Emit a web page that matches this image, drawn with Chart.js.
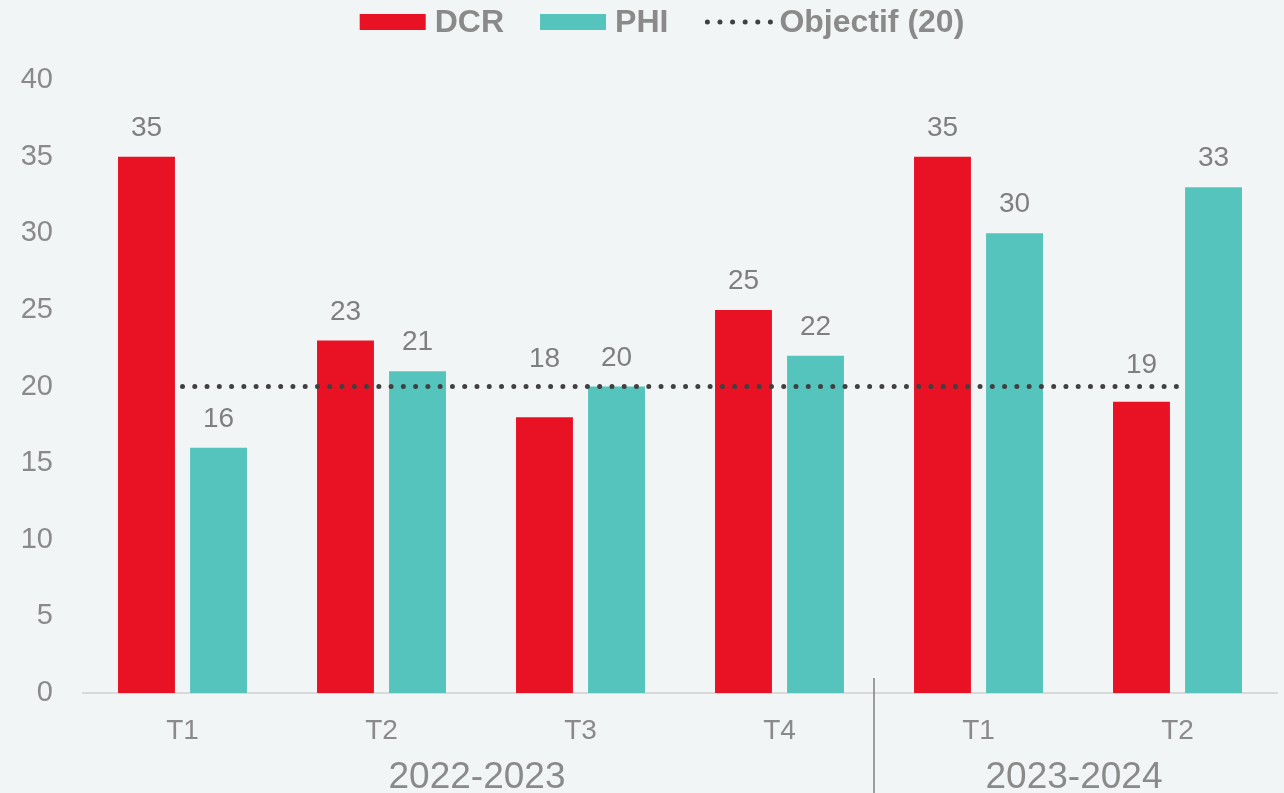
<!DOCTYPE html>
<html lang="fr">
<head>
<meta charset="UTF-8">
<title>DCR / PHI</title>
<script src="https://cdn.jsdelivr.net/npm/chart.js"></script>
<style>
  html, body { margin: 0; padding: 0; background: #f2f5f6; }
  .wrap { width: 1284px; height: 793px; }
</style>
</head>
<body>
<div class="wrap"><canvas id="chart" width="1284" height="793"></canvas></div>
<script>
// Data
const categories = ['T1', 'T2', 'T3', 'T4', 'T1', 'T2'];
const groupLabels = ['2022-2023', '2023-2024'];
const groupSizes = [4, 2];
const dcrValues = [35, 23, 18, 25, 35, 19];
const phiValues = [16, 21, 20, 22, 30, 33];
const objectifValue = 20;
const objectifValues = categories.map(() => objectifValue);
const seriesNames = ['DCR', 'PHI', 'Objectif (20)'];

const RED = '#e81224';
const TEAL = '#55c4bc';
const DOTS = '#404040';
const GREY = '#8a8a8a';
const FONT = '"Liberation Sans", Arial, sans-serif';

// some labels were moved up off the dotted line in the original
const labelLift = { 1: [0, 0, 29, 0, 0, 8], 2: [0, 0, 0, 0, 0, 0] };

// background
const bgPlugin = {
  id: 'bg',
  beforeDraw(chart) {
    const ctx = chart.ctx;
    ctx.save();
    ctx.fillStyle = '#f2f5f6';
    ctx.fillRect(0, 0, chart.width, chart.height);
    ctx.restore();
  }
};

// value labels above the bars
const valueLabels = {
  id: 'valueLabels',
  afterDatasetsDraw(chart) {
    const ctx = chart.ctx;
    ctx.save();
    ctx.font = '28px ' + FONT;
    ctx.fillStyle = '#7f7f7f';
    ctx.textAlign = 'center';
    ctx.textBaseline = 'middle';
    chart.data.datasets.forEach((ds, i) => {
      if (ds.type === 'line') return;
      chart.getDatasetMeta(i).data.forEach((bar, j) => {
        const lift = (labelLift[i] || [])[j] || 0;
        ctx.fillText(ds.data[j], bar.x, bar.y - 28.5 - lift);
      });
    });
    ctx.restore();
  }
};

// group labels under the quarters + separator
const groupAxis = {
  id: 'groupAxis',
  afterDraw(chart) {
    const ctx = chart.ctx;
    const x = chart.scales.x;
    const bottom = chart.chartArea.bottom;
    ctx.save();
    ctx.font = '37px ' + FONT;
    ctx.fillStyle = GREY;
    ctx.textAlign = 'center';
    ctx.textBaseline = 'middle';
    let start = 0;
    groupSizes.forEach((n, g) => {
      const end = start + n - 1;
      const cx = (x.getPixelForValue(start) + x.getPixelForValue(end)) / 2;
      ctx.fillText(groupLabels[g], cx - 4, bottom + 85);
      if (g < groupSizes.length - 1) {
        const sx = (x.getPixelForValue(end) + x.getPixelForValue(end + 1)) / 2 - 5;
        ctx.strokeStyle = '#7f7f7f';
        ctx.lineWidth = 1.5;
        ctx.beginPath();
        ctx.moveTo(sx, bottom - 15);
        ctx.lineTo(sx, chart.height);
        ctx.stroke();
      }
      start += n;
    });
    ctx.restore();
  }
};

// legend on top
const topLegend = {
  id: 'topLegend',
  afterDraw(chart) {
    const ctx = chart.ctx;
    ctx.save();
    ctx.font = 'bold 32px ' + FONT;
    ctx.textBaseline = 'middle';
    const boxW = 66, gap = 9, itemGap = 36, cy = 22;
    const widths = seriesNames.map(n => boxW + gap + ctx.measureText(n).width);
    const total = widths.reduce((a, b) => a + b, 0) + itemGap * (widths.length - 1);
    let x = (chart.width - total) / 2 + 20;
    const colors = [RED, TEAL, DOTS];
    seriesNames.forEach((name, i) => {
      if (i < 2) {
        ctx.fillStyle = colors[i];
        ctx.fillRect(x, cy - 8, boxW, 16);
      } else {
        ctx.strokeStyle = DOTS;
        ctx.lineWidth = 5;
        ctx.lineCap = 'round';
        ctx.setLineDash([0, 12.6]);
        ctx.beginPath();
        ctx.moveTo(x + 3, cy);
        ctx.lineTo(x + boxW + 3, cy);
        ctx.stroke();
        ctx.setLineDash([]);
      }
      ctx.fillStyle = GREY;
      ctx.fillText(name, x + boxW + gap, cy + 1);
      x += widths[i] + itemGap;
    });
    ctx.restore();
  }
};

new Chart(document.getElementById('chart'), {
  data: {
    labels: categories,
    datasets: [
      {
        type: 'line',
        label: seriesNames[2],
        data: objectifValues,
        borderColor: DOTS,
        borderWidth: 5,
        borderDash: [0, 12.27],
        borderCapStyle: 'round',
        pointRadius: 0,
        fill: false,
        order: 0
      },
      {
        type: 'bar',
        label: seriesNames[0],
        data: dcrValues,
        backgroundColor: RED,
        categoryPercentage: 0.724,
        barPercentage: 0.79,
        order: 1
      },
      {
        type: 'bar',
        label: seriesNames[1],
        data: phiValues,
        backgroundColor: TEAL,
        categoryPercentage: 0.724,
        barPercentage: 0.79,
        order: 1
      }
    ]
  },
  options: {
    responsive: false,
    animation: false,
    layout: { padding: { top: 80, left: 20, right: 7, bottom: 0 } },
    plugins: {
      legend: { display: false },
      tooltip: { enabled: false }
    },
    scales: {
      x: {
        afterFit(scale) { scale.height = 100; },
        grid: { display: false, drawTicks: false },
        border: { display: true, color: '#d9d9d9', width: 2 },
        ticks: {
          color: GREY,
          font: { family: FONT, size: 28 },
          padding: 21,
          maxRotation: 0,
          autoSkip: false
        }
      },
      y: {
        min: 0,
        max: 40,
        afterFit(scale) { scale.width = 63; },
        grid: { display: false, drawTicks: false },
        border: { display: false },
        ticks: {
          stepSize: 5,
          color: GREY,
          font: { family: FONT, size: 29 },
          padding: 30
        }
      }
    }
  },
  plugins: [bgPlugin, valueLabels, groupAxis, topLegend]
});
</script>
</body>
</html>
